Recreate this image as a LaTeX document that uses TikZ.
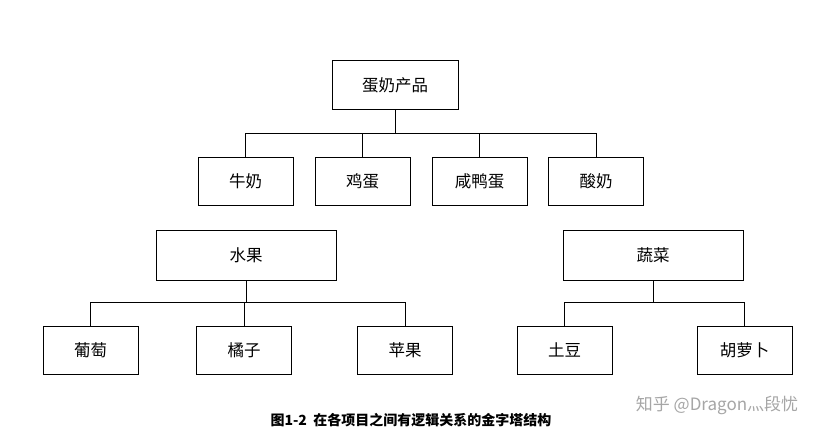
\documentclass[tikz,border=0pt]{standalone}
\usepackage{fontspec}
\setmainfont{Noto Sans CJK SC}
\usetikzlibrary{positioning}
\tikzset{
  box/.style={draw,line width=1pt,minimum width=95pt,minimum height=48pt,inner sep=0pt,font=\fontsize{16.5}{19}\selectfont},
  wide/.style={box,minimum width=180pt,minimum height=50pt},
  link/.style={line width=0.8pt}
}
\begin{document}
\begin{tikzpicture}[x=1pt,y=-1pt]
\path[use as bounding box,fill=white] (0,0) rectangle (834,441);
% top level
\node[box,minimum width=126pt,minimum height=49pt] (dairy) at (395,85) {蛋奶产品};
\node[box] (milk) at (245.5,181.5) {牛奶};
\node[box] (egg) at (362.5,181.5) {鸡蛋};
\node[box] (duck) at (479.5,181.5) {咸鸭蛋};
\node[box] (yog) at (596,181.5) {酸奶};
% fruit and vegetables
\node[wide] (fruit) at (246,255) {水果};
\node[wide] (veg) at (653,255) {蔬菜};
\node[box] (grape) at (90.5,350) {葡萄};
\node[box] (orange) at (244,350) {橘子};
\node[box] (apple) at (405,350) {苹果};
\node[box] (potato) at (564.5,350) {土豆};
\node[box] (carrot) at (744.5,350) {胡萝卜};
% buses
\coordinate (b1) at (dairy.south |- 0,133);
\coordinate (b2) at (fruit.south |- 0,302);
\coordinate (b3) at (veg.south |- 0,302);
\draw[link] (dairy.south) -- (b1);
\foreach \c in {milk,egg,duck,yog} \draw[link] (b1) -| (\c.north);
\draw[link] (fruit.south) -- (b2);
\foreach \c in {grape,orange,apple} \draw[link] (b2) -| (\c.north);
\draw[link] (veg.south) -- (b3);
\foreach \c in {potato,carrot} \draw[link] (b3) -| (\c.north);
% caption
\node[font=\bfseries\fontsize{14}{16}\selectfont] (cap) at (411,420) {图1-2\ \ 在各项目之间有逻辑关系的金字塔结构};
\node[text=black!35,font=\fontsize{17}{20}\selectfont] (mark) at (717,405) {知乎 @Dragon灬段忧};
\end{tikzpicture}
\end{document}
